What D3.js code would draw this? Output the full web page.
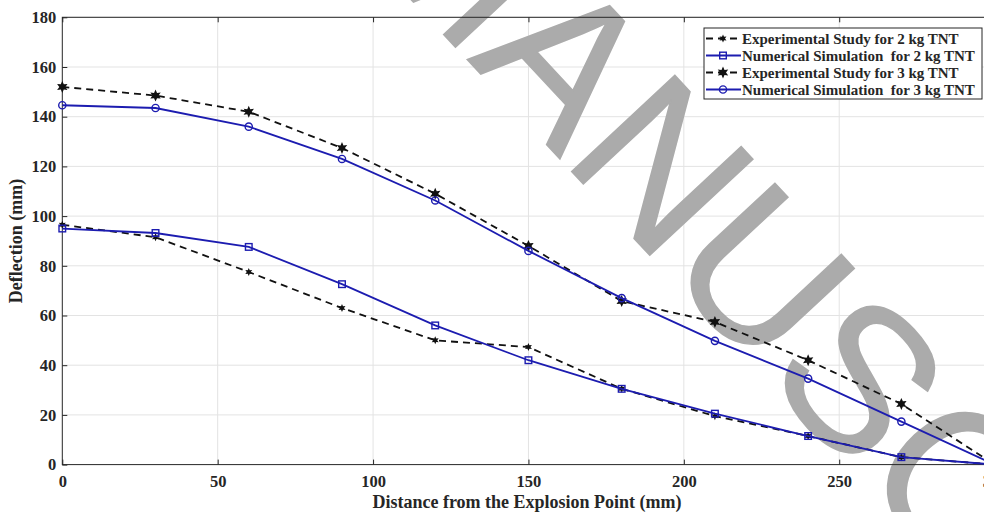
<!DOCTYPE html>
<html>
<head>
<meta charset="utf-8">
<script src="https://cdn.jsdelivr.net/npm/d3@7"></script>
<style>
  body { margin: 0; background: #fff; overflow: hidden; }
  text { font-family: "Liberation Serif", "Times New Roman", serif; font-weight: bold; fill: #262626; }
  .grid line { stroke: #e3e3e3; stroke-width: 1; }
  .legend text { white-space: pre; }
</style>
</head>
<body>
<svg width="984" height="512"></svg>
<script>
// distances (mm) where deflection was measured
var distances = [0, 30, 60, 90, 120, 150, 180, 210, 240, 270, 300];

var exp2kg = [96.5, 91.5, 77.5, 63, 50, 47.3, 30.5, 19.5, 11.5, 3, 0];
var num2kg = [95, 93.2, 87.6, 72.6, 56, 42, 30.5, 20.5, 11.5, 3, 0];
var exp3kg = [152, 148.5, 142, 127.4, 109, 88, 65.8, 57.4, 42, 24.4, 0];
var num3kg = [144.6, 143.5, 136, 123, 106.3, 86, 67, 49.8, 34.6, 17.3, 0];

var xTicks = [0, 50, 100, 150, 200, 250, 300];
var yTicks = [0, 20, 40, 60, 80, 100, 120, 140, 160, 180];

var seriesNames = [
    'Experimental Study for 2 kg TNT',
    'Numerical Simulation  for 2 kg TNT',
    'Experimental Study for 3 kg TNT',
    'Numerical Simulation  for 3 kg TNT'
];

var svg = d3.select('svg');
var blue = '#1c1cb0';

var plot = {l: 62.3, r: 994.6, t: 17.3, b: 464.6};

var xScale = d3.scaleLinear().domain([0, 300]).range([plot.l, plot.r]);
var yScale = d3.scaleLinear().domain([0, 180]).range([plot.b, plot.t]);

// gridlines
var grid = svg.append('g').attr('class', 'grid');
grid.selectAll('.gx').data(xTicks.slice(1)).enter().append('line')
    .attr('x1', function(d){ return xScale(d); })
    .attr('x2', function(d){ return xScale(d); })
    .attr('y1', plot.t).attr('y2', plot.b);
grid.selectAll('.gy').data(yTicks.slice(1)).enter().append('line')
    .attr('y1', function(d){ return yScale(d); })
    .attr('y2', function(d){ return yScale(d); })
    .attr('x1', plot.l).attr('x2', plot.r);

// watermark behind the data, "U" centred on a fixed spot
var wmString = 'ACCEPTED MANUSCRIPT';
var wm = svg.append('g')
    .attr('transform', 'translate(' + [765, 272] + ')rotate(47)');
var wmText = wm.append('text')
    .text(wmString)
    .style('font-family', '"Liberation Sans", Arial, sans-serif')
    .style('font-weight', 'normal')
    .style('font-size', '205px')
    .style('fill', '#ababab')
    .style('stroke', '#ababab')
    .style('stroke-width', 1.5);
var uIdx = wmString.indexOf('U');
var node = wmText.node();
var off = node.getSubStringLength(0, uIdx) + node.getSubStringLength(uIdx, 1) / 2;
wmText.attr('x', -off).attr('y', 73);

// axes (MATLAB style, ticks inward, box on)
var axisColor = '#262626';
function styleAxis(g) {
    g.select('.domain').remove();
    g.selectAll('.tick line').attr('stroke', axisColor);
    g.selectAll('.tick text')
        .style('font-size', '16.5px')
        .attr('fill', axisColor);
}

var xAxisB = d3.axisBottom(xScale).tickValues(xTicks).tickSize(-5).tickPadding(11).tickFormat(d3.format('d'));
var xAxisT = d3.axisTop(xScale).tickValues(xTicks).tickSize(-5).tickFormat('');
var yAxisL = d3.axisLeft(yScale).tickValues(yTicks).tickSize(-5).tickPadding(6).tickFormat(d3.format('d'));

svg.append('g').attr('transform', 'translate(0,' + plot.b + ')').call(xAxisB).call(styleAxis);
svg.append('g').attr('transform', 'translate(0,' + plot.t + ')').call(xAxisT).call(styleAxis);
svg.append('g').attr('transform', 'translate(' + plot.l + ',0)').call(yAxisL).call(styleAxis);

svg.append('rect')
    .attr('x', plot.l).attr('y', plot.t)
    .attr('width', plot.r - plot.l).attr('height', plot.b - plot.t)
    .attr('fill', 'none').attr('stroke', axisColor).attr('stroke-width', 1);

// axis titles
svg.append('text')
    .attr('x', 527).attr('y', 508)
    .attr('text-anchor', 'middle')
    .style('font-size', '18px')
    .text('Distance from the Explosion Point (mm)');
svg.append('text')
    .attr('transform', 'translate(22,241)rotate(-90)')
    .attr('text-anchor', 'middle')
    .style('font-size', '18px')
    .text('Deflection (mm)');

// six pointed star marker
function hexagram(r) {
    var pts = [];
    for (var i = 0; i < 12; i++) {
        var a = Math.PI / 6 * i - Math.PI / 2;
        var rr = i % 2 ? r * 0.5 : r;
        pts.push([rr * Math.cos(a), rr * Math.sin(a)]);
    }
    return 'M' + pts.join('L') + 'Z';
}

var series = [
    {name: seriesNames[0], values: exp2kg, color: '#111', dash: '7,5', marker: 'star', size: 4},
    {name: seriesNames[1], values: num2kg, color: blue, dash: null, marker: 'square', size: 3.3},
    {name: seriesNames[2], values: exp3kg, color: '#111', dash: '7,5', marker: 'star', size: 6},
    {name: seriesNames[3], values: num3kg, color: blue, dash: null, marker: 'circle', size: 3.6}
];

var line = d3.line()
    .x(function(d){ return xScale(d[0]); })
    .y(function(d){ return yScale(d[1]); });

function drawMarker(g, s) {
    if (s.marker === 'star') {
        g.append('path').attr('d', hexagram(s.size)).attr('fill', s.color);
    } else if (s.marker === 'square') {
        g.append('rect')
            .attr('x', -s.size).attr('y', -s.size)
            .attr('width', s.size * 2).attr('height', s.size * 2)
            .attr('fill', 'none').attr('stroke', s.color).attr('stroke-width', 1.4);
    } else {
        g.append('circle').attr('r', s.size)
            .attr('fill', 'none').attr('stroke', s.color).attr('stroke-width', 1.4);
    }
}

series.forEach(function(s) {
    var pts = distances.map(function(d, i){ return [d, s.values[i]]; });
    svg.append('path')
        .datum(pts)
        .attr('d', line)
        .attr('fill', 'none')
        .attr('stroke', s.color)
        .attr('stroke-width', 1.8)
        .attr('stroke-dasharray', s.dash);
    svg.selectAll(null).data(pts).enter().append('g')
        .attr('transform', function(d){ return 'translate(' + [xScale(d[0]), yScale(d[1])] + ')'; })
        .each(function(){ drawMarker(d3.select(this), s); });
});

// legend
var legend = svg.append('g').attr('class', 'legend');
legend.append('rect')
    .attr('x', 704).attr('y', 28).attr('width', 278).attr('height', 71)
    .attr('fill', '#fff').attr('stroke', axisColor).attr('stroke-width', 1);

var items = legend.selectAll('.item').data(series).enter().append('g')
    .attr('transform', function(d, i){ return 'translate(0,' + (38.5 + i * 17) + ')'; });
items.append('line')
    .attr('x1', 706).attr('x2', 741)
    .attr('stroke', function(d){ return d.color; })
    .attr('stroke-width', 1.8)
    .attr('stroke-dasharray', function(d){ return d.dash; });
items.each(function(d){
    var g = d3.select(this).append('g').attr('transform', 'translate(723,0)');
    drawMarker(g, d);
});
items.append('text')
    .attr('x', 742).attr('y', 5)
    .style('font-size', '15px')
    .attr('fill', '#111')
    .text(function(d){ return d.name; });
</script>
</body>
</html>
